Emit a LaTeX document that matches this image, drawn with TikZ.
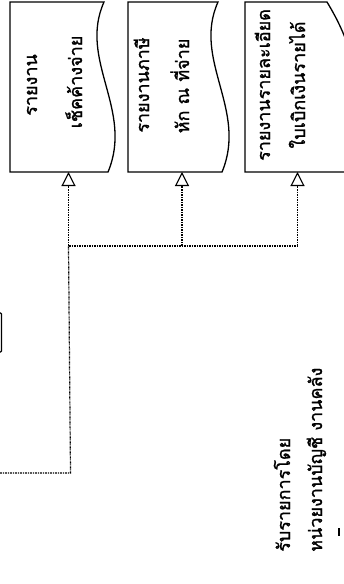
\documentclass[tikz,border=0pt]{standalone}
\usepackage{fontspec}
\newfontfamily\thaifont[Script=Thai,FakeBold=1.2]{Loma}
\usetikzlibrary{arrows.meta}
\begin{document}
\begin{tikzpicture}[x=1pt,y=-1pt,
  docshape/.style={draw=black, line width=1.3pt},
  flow/.style={line width=1.2pt, dash pattern=on 2.2pt off 0.9pt on 1pt off 0.9pt},
  flowarrow/.style={flow, -{Triangle[open,length=14pt,width=14pt,line width=1.1pt]}},
  lbl/.style={font=\thaifont\fontsize{18}{20}\selectfont, rotate=90, anchor=base, inner sep=0pt},
  lblw/.style={lbl, anchor=base west}]
\useasboundingbox (0,0) rectangle (344,584);
\clip (0,0) rectangle (344,584);
\fill[white] (0,0) rectangle (344,584);

% document shapes
\draw[docshape] (10,2) -- (104,2) .. controls (78,60) and (134,110) .. (108,172) -- (10,172) -- cycle;
\draw[docshape] (128,2) -- (218,2) .. controls (192,60) and (248,110) .. (222,172) -- (128,172) -- cycle;
\draw[docshape] (245,2) -- (327,2) .. controls (350,40) and (352,60) .. (362,100) -- (362,172) -- (245,172) -- cycle;

% texts in documents
\node[lbl] (t1a) at (37,85) {รายงาน};
\node[lbl] (t1b) at (82,82) {เช็คค้างจ่าย};
\node[lbl] (t2a) at (149,85) {รายงานภาษี};
\node[lbl] (t2b) at (189,86) {หัก ณ ที่จ่าย};
\node[lbl] (t3a) at (270,85) {รายงานรายละเอียด};
\node[lbl] (t3b) at (305,85) {ใบเบิกเงินรายได้};

% bottom texts
\node[lblw] (r1) at (290,552) {รับรายการโดย};
\node[lblw] (r2) at (322,552) {หน่วยงานบัญชี งานคลัง};

% coordinates
\coordinate (b1) at (68.5,172);
\coordinate (b2) at (182,172);
\coordinate (b3) at (297.5,172);
\coordinate (j1) at (68.5,246);
\coordinate (j2) at (182,246);
\coordinate (j3) at (297.5,246);
\coordinate (c1) at (70.5,473);
\coordinate (src) at (0,473);

% connectors
\draw[flow] (src) -- (c1) -- (j1);
\draw[flow] (j1) -- (j3);
\draw[flowarrow] (j1) -- (b1);
\draw[flowarrow] (j2) -- (b2);
\draw[flowarrow] (j3) -- (b3);

% partial shape at left edge and small mark
\draw[line width=1.3pt, rounded corners=1pt] (-3,313) -- (1.5,313) -- (1.5,352) -- (-3,352);
\draw[line width=1.2pt] (339,528) -- (339,536);
\end{tikzpicture}
\end{document}
